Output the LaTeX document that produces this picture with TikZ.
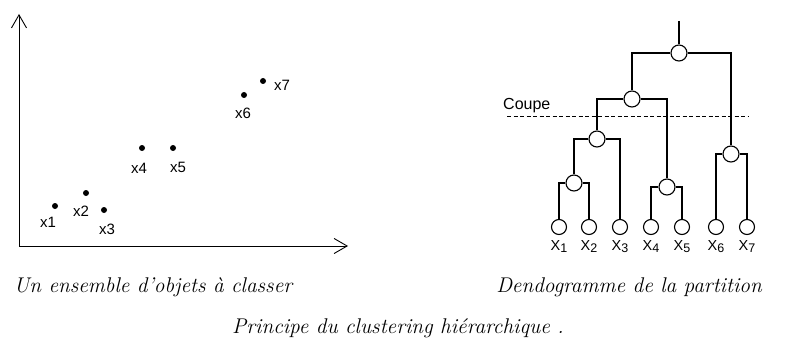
\documentclass[tikz,border=0pt]{standalone}
\usepackage{fontspec}
\newfontfamily\labelsans{Liberation Sans}
\usetikzlibrary{arrows.meta}
\begin{document}
\begin{tikzpicture}[x=1pt,y=-1pt,
  axis/.style={line width=0.9pt,-{Straight Barb[length=13pt,width=15pt,line width=0.9pt]}},
  pt/.style={circle,fill=black,inner sep=0pt,minimum size=6pt},
  ptlabel/.style={font=\labelsans\fontsize{15}{15}\selectfont,inner sep=0pt},
  branch/.style={line width=1.1pt},
  inner/.style={circle,draw,line width=1.1pt,fill=white,inner sep=0pt,minimum size=16pt},
  leaf/.style={circle,draw,line width=1.1pt,fill=white,inner sep=0pt,minimum size=15pt},
  leaflabel/.style={font=\labelsans\fontsize{14.5}{14.5}\selectfont,inner sep=0pt,anchor=base},
  caption/.style={font=\itshape\fontsize{21.3}{23}\selectfont,inner sep=0pt,anchor=base}]
\useasboundingbox (0,0) rectangle (793,345);

% ---- scatter of objects ----
\coordinate (origin) at (19,246);
\coordinate (ytip) at (19,14);
\coordinate (xtip) at (348,246);
\draw[axis] (origin) -- (ytip);
\draw[axis] (origin) -- (xtip);

\node[pt] (p1) at (55,206) {};
\node[pt] (p2) at (86,193) {};
\node[pt] (p3) at (104,210) {};
\node[pt] (p4) at (142,148) {};
\node[pt] (p5) at (173,148) {};
\node[pt] (p6) at (244,95) {};
\node[pt] (p7) at (263,81) {};

\node[ptlabel] (l1) at (48,222) {x1};
\node[ptlabel] (l2) at (81,211) {x2};
\node[ptlabel] (l3) at (107,229) {x3};
\node[ptlabel] (l4) at (139,168) {x4};
\node[ptlabel] (l5) at (178,167) {x5};
\node[ptlabel] (l6) at (243,113) {x6};
\node[ptlabel] (l7) at (282,85) {x7};

% ---- dendrogram ----
\coordinate (top) at (679,21);
\node[inner] (r)   at (679,53) {};
\node[inner] (n2)  at (632,99) {};
\node[inner] (n67) at (731,154) {};
\node[inner] (n123) at (597,139) {};
\node[inner] (n45) at (667,187) {};
\node[inner] (n12) at (574,183) {};

\foreach \i/\x in {1/559,2/589,3/620,4/651,5/682,6/716,7/747}{
  \node[leaf] (x\i) at (\x,227) {};
  \node[leaflabel] (t\i) at (\x,250)
    {X\raisebox{-0.2em}{\fontsize{12.5}{12.5}\selectfont\i}};
}

\draw[branch] (top) -- (r);
\draw[branch] (r.west) -| (n2.north);
\draw[branch] (r.east) -| (n67.north);
\draw[branch] (n2.west) -| (n123.north);
\draw[branch] (n2.east) -| (n45.north);
\draw[branch] (n123.west) -| (n12.north);
\draw[branch] (n123.east) -| (x3.north);
\draw[branch] (n12.west) -| (x1.north);
\draw[branch] (n12.east) -| (x2.north);
\draw[branch] (n45.west) -| (x4.north);
\draw[branch] (n45.east) -| (x5.north);
\draw[branch] (n67.west) -| (x6.north);
\draw[branch] (n67.east) -| (x7.north);

% cut level
\coordinate (cutL) at (507,116);
\coordinate (cutR) at (748,116);
\draw[line width=0.9pt,dash pattern=on 4pt off 2.5pt] (cutL) -- (cutR);
\node[font=\labelsans\fontsize{16}{16}\selectfont,inner sep=0pt,anchor=base west] (coupe) at (503,110) {Coupe};

% ---- captions ----
\node[caption] (c1) at (153,292) {Un ensemble d'objets à classer};
\node[caption] (c2) at (629,292) {Dendogramme de la partition};
\node[caption] (c3) at (398,333) {Principe du clustering hiérarchique .};
\end{tikzpicture}
\end{document}
